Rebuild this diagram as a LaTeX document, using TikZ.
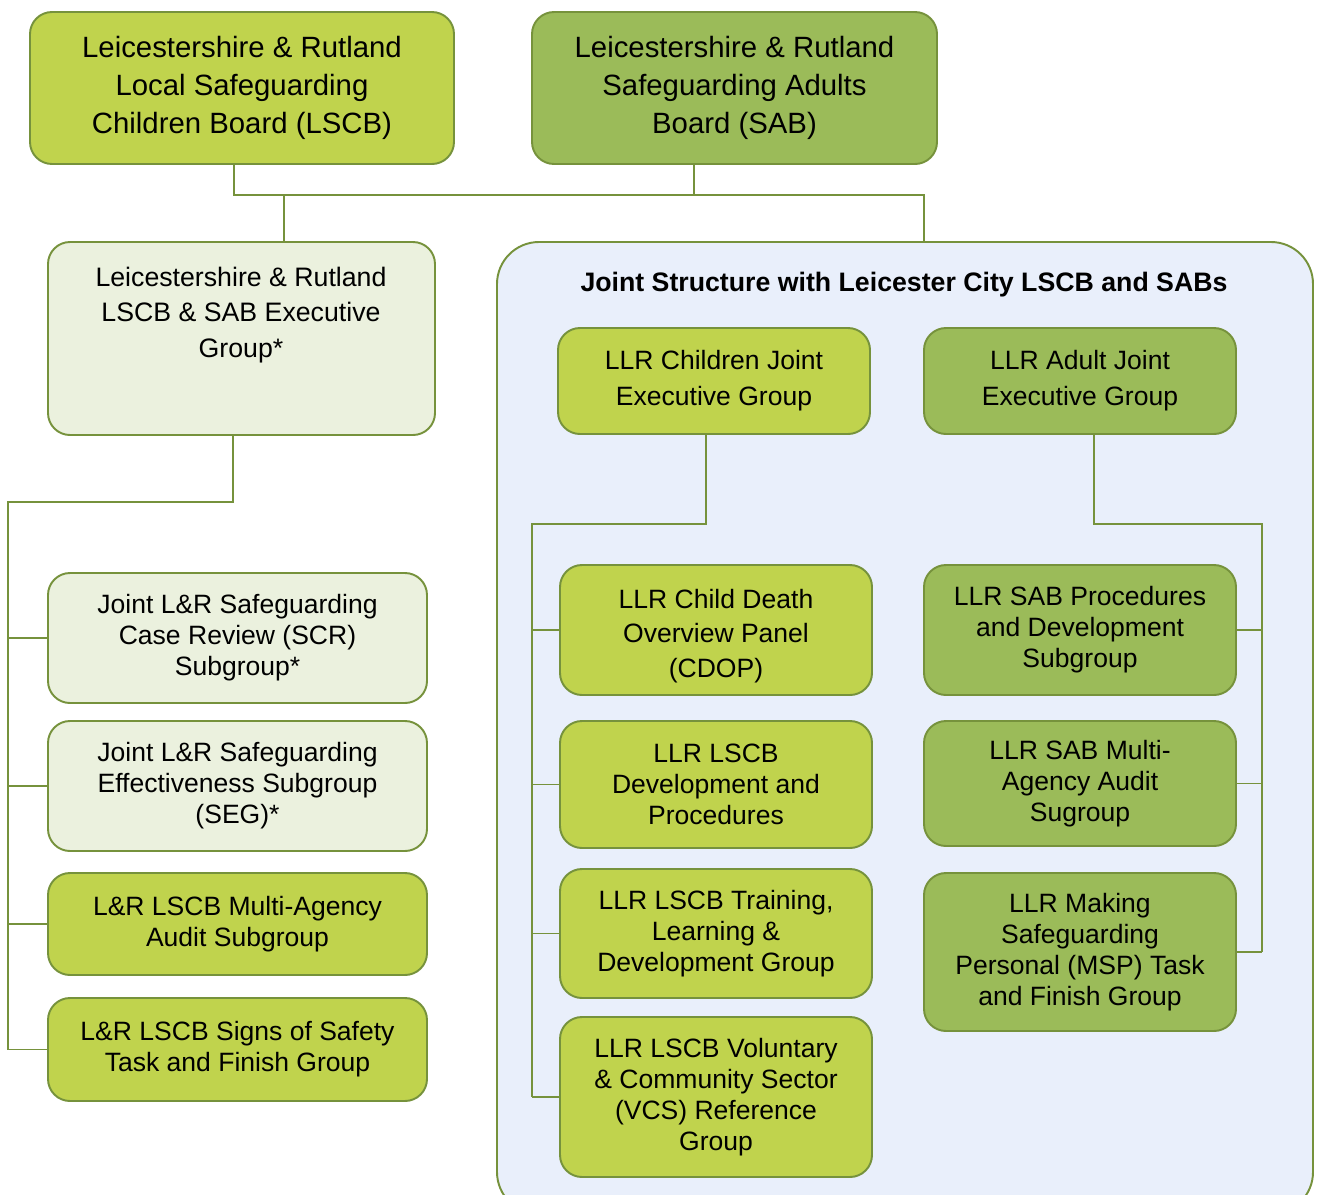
\documentclass[tikz,border=0pt]{standalone}
\usepackage{fontspec}
\setmainfont{Liberation Sans}
\usepackage{xcolor}
\definecolor{limegreen}{RGB}{192,211,77}
\definecolor{olivegreen}{RGB}{155,187,89}
\definecolor{palegreen}{RGB}{235,241,222}
\definecolor{paleblue}{RGB}{233,239,251}
\definecolor{edgegreen}{RGB}{118,146,60}

\begin{document}
\begin{tikzpicture}
  [x=0.02cm,y=-0.02cm,
   every node/.style={align=center,text=black},
   sized/.style 2 args={minimum width=#1*0.02cm,minimum height=#2*0.02cm,inner sep=0pt},
   board/.style={rectangle,rounded corners=0.44cm,draw=edgegreen,line width=1.1pt},
   limebox/.style={board,fill=limegreen},
   olivebox/.style={board,fill=olivegreen},
   palebox/.style={board,fill=palegreen},
   big/.style={font=\fontsize{16.7}{21.8}\selectfont},
   small/.style={font=\fontsize{15.1}{17.6}\selectfont},
   link/.style={draw=edgegreen,line width=1pt}]
  \clip (0,0) rectangle (1319,1194);

  % top boards
  \node[limebox,sized={424}{152},big] (lscb) at (242,88)
    {Leicestershire \& Rutland\\Local Safeguarding\\Children Board (LSCB)};
  \node[olivebox,sized={405}{152},big] (sab) at (734.5,88)
    {Leicestershire \& Rutland\\Safeguarding Adults\\Board (SAB)};

  % executive group
  \node[palebox,sized={387}{193}] (exec) at (241.5,338.5) {};
  \node[font=\fontsize{15.2}{20.1}\selectfont] (exectext) at (241,315)
    {Leicestershire \& Rutland\\LSCB \& SAB Executive\\Group*};

  % joint structure
  \node[board,rounded corners=0.84cm,fill=paleblue,sized={816}{972}] (joint) at (905,728) {};
  \node[font=\bfseries\fontsize{15.2}{17.6}\selectfont] (jointtitle) at (904,285)
    {Joint Structure with Leicester City LSCB and SABs};
  \node[limebox,sized={312}{106},font=\fontsize{15.1}{20.4}\selectfont] (cje) at (714,381)
    {LLR Children Joint\\Executive Group};
  \node[olivebox,sized={312}{106},font=\fontsize{15.1}{20.4}\selectfont] (aje) at (1080,381)
    {LLR Adult Joint\\Executive Group};

  % L&R subgroups
  \node[palebox,sized={379}{130},small] (scr) at (237.5,638)
    {Joint L\&R Safeguarding\\Case Review (SCR)\\Subgroup*};
  \node[palebox,sized={379}{130},small] (seg) at (237.5,786)
    {Joint L\&R Safeguarding\\Effectiveness Subgroup\\(SEG)*};
  \node[limebox,sized={379}{102},small] (maa) at (237.5,924)
    {L\&R LSCB Multi-Agency\\Audit Subgroup};
  \node[limebox,sized={379}{103},small] (sos) at (237.5,1049.5)
    {L\&R LSCB Signs of Safety\\Task and Finish Group};

  % children subgroups
  \node[limebox,sized={312}{130},font=\fontsize{15.1}{19.8}\selectfont] (cdop) at (716,630)
    {\rule{0pt}{17.8pt}LLR Child Death\\Overview Panel\\(CDOP)};
  \node[limebox,sized={312}{127},small] (dev) at (716,784.5)
    {LLR LSCB\\Development and\\Procedures};
  \node[limebox,sized={312}{129},small] (tld) at (716,933.5)
    {LLR LSCB Training,\\Learning \&\\Development Group};
  \node[limebox,sized={312}{160},small] (vcs) at (716,1097)
    {LLR LSCB Voluntary\\\& Community Sector\\(VCS) Reference\\Group};

  % adult subgroups
  \node[olivebox,sized={312}{130},small] (sabp) at (1080,630)
    {LLR SAB Procedures\\and Development\\Subgroup};
  \node[olivebox,sized={312}{125},small] (maas) at (1080,783.5)
    {LLR SAB Multi-\\Agency Audit\\Sugroup};
  \node[olivebox,sized={312}{158},small] (msp) at (1080,952)
    {LLR Making\\Safeguarding\\Personal (MSP) Task\\and Finish Group};

  % connectors
  \coordinate (busL) at (234,195);
  \coordinate (busS) at (694,195);
  \coordinate (busE) at (284,195);
  \coordinate (busR) at (924,195);
  \draw[link] (lscb.south -| busL) -- (busL) -- (busR) -- (busR |- joint.north);
  \draw[link] (sab.south -| busS) -- (busS);
  \draw[link] (busE) -- (busE |- exec.north);

  \coordinate (execbend) at (233,502);
  \coordinate (leftrail) at (8,502);
  \draw[link] (exec.south -| execbend) -- (execbend) -- (leftrail) -- (leftrail |- sos.west);
  \foreach \n in {scr,seg,maa,sos}
    \draw[link] (\n.west) -- (\n.west -| leftrail);

  \coordinate (cbend) at (706,524);
  \coordinate (crail) at (532,524);
  \draw[link] (cje.south -| cbend) -- (cbend) -- (crail) -- (crail |- vcs.west);
  \foreach \n in {cdop,dev,tld,vcs}
    \draw[link] (\n.west) -- (\n.west -| crail);

  \coordinate (abend) at (1094,524);
  \coordinate (arail) at (1262,524);
  \draw[link] (aje.south -| abend) -- (abend) -- (arail) -- (arail |- msp.east);
  \foreach \n in {sabp,maas,msp}
    \draw[link] (\n.east) -- (\n.east -| arail);

\end{tikzpicture}
\end{document}
